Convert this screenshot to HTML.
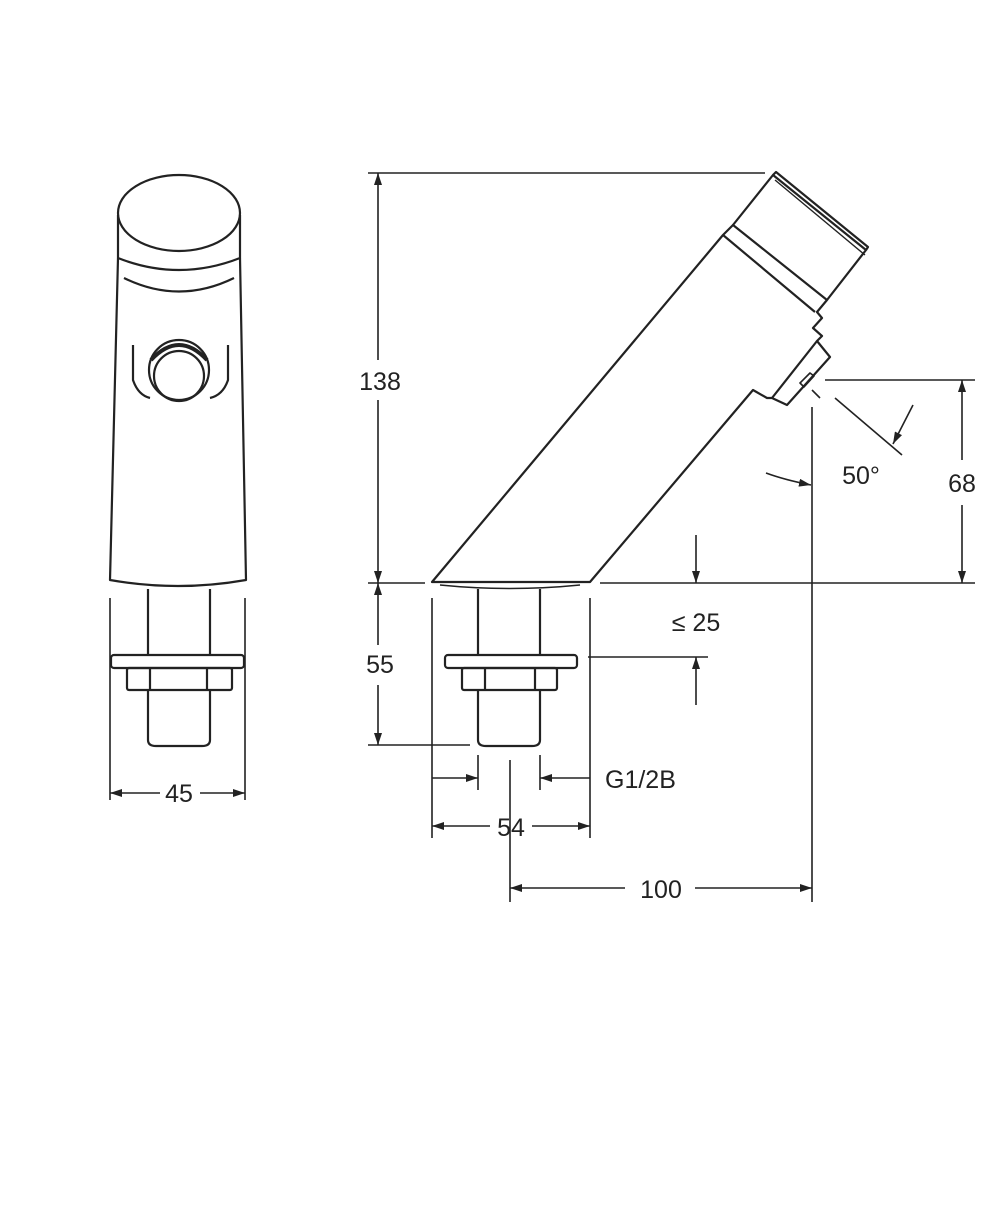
<!DOCTYPE html>
<html><head><meta charset="utf-8"><style>
html,body{margin:0;padding:0;background:#fff;}
svg{display:block;}
text{font-family:"Liberation Sans",sans-serif;font-size:25px;fill:#222;}
</style></head><body>
<svg width="1000" height="1208" viewBox="0 0 1000 1208" xmlns="http://www.w3.org/2000/svg">
<defs>
<marker id="a" viewBox="0 0 12 8" refX="12" refY="4" markerWidth="12" markerHeight="8" orient="auto-start-reverse" markerUnits="userSpaceOnUse"><path d="M0,0 L12,4 L0,8 z" fill="#222"/></marker>
</defs>
<g fill="none" stroke="#222" stroke-width="2.2" stroke-linejoin="round">
<!-- FRONT VIEW -->
<ellipse cx="179" cy="213" rx="61" ry="38"/>
<path d="M118,215 L118,258 Q179,282 240,258 L240,215"/>
<path d="M124,278 Q179,305 234,278"/>
<path d="M118,258 L110,580 Q178,592 246,580 L240,258"/>
<path d="M133,345 L133,380 Q138,395 150,398"/>
<path d="M228,345 L228,380 Q223,395 210,398"/>
<circle cx="179" cy="370" r="30"/>
<circle cx="179" cy="376" r="25"/>
<path d="M151,360 Q179,330 207,360" stroke-width="4"/>
<path d="M148,589 L148,655 M210,589 L210,655"/>
<rect x="111" y="655" width="133" height="13" rx="3"/>
<rect x="127" y="668" width="105" height="22" rx="2"/>
<path d="M150,668 L150,690 M207,668 L207,690"/>
<path d="M148,690 L148,740 Q148,746 156,746 L202,746 Q210,746 210,740 L210,690"/>
<path d="M110,598 L110,800 M245,598 L245,800" stroke-width="1.6"/>
<line x1="110" y1="793" x2="160" y2="793" stroke-width="1.6" marker-start="url(#a)"/>
<line x1="200" y1="793" x2="245" y2="793" stroke-width="1.6" marker-end="url(#a)"/>

<!-- SIDE VIEW BODY -->
<path d="M432,582 L723,235 L733,225 L827,300 L817,312 L822,318 L813,328 L822,336 L817,341 L830,357 L787,405 L772,398 L767,398 L753,390 L590,582 Z"/>
<path d="M733,225 L773,175 L866,250 L827,300"/>
<path d="M773,175 L776,172 L868,247 L866,250" />
<path d="M775,180 L865,255" stroke-width="1.4"/>
<path d="M723,235 L815,312" />
<path d="M772,398 L817,341"/>
<path d="M800,383 L810,373 L814,376 L804,387 Z" stroke-width="1.6"/>
<path d="M440,585 Q510,592 580,585" stroke-width="1.6"/>
<!-- stem/nut side -->
<path d="M478,589 L478,655 M540,589 L540,655"/>
<rect x="445" y="655" width="132" height="13" rx="3"/>
<rect x="462" y="668" width="95" height="22" rx="2"/>
<path d="M485,668 L485,690 M535,668 L535,690"/>
<path d="M478,690 L478,740 Q478,746 486,746 L532,746 Q540,746 540,740 L540,690"/>
</g>
<g fill="none" stroke="#222" stroke-width="1.6">
<!-- dimension lines side -->
<line x1="368" y1="173" x2="765" y2="173"/>
<line x1="378" y1="173" x2="378" y2="360" marker-start="url(#a)"/>
<line x1="378" y1="400" x2="378" y2="583" marker-end="url(#a)"/>
<line x1="368" y1="583" x2="425" y2="583"/>
<line x1="600" y1="583" x2="975" y2="583"/>
<line x1="378" y1="583" x2="378" y2="645" marker-start="url(#a)"/>
<line x1="378" y1="685" x2="378" y2="745" marker-end="url(#a)"/>
<line x1="368" y1="745" x2="470" y2="745"/>
<line x1="432" y1="598" x2="432" y2="838"/>
<line x1="590" y1="598" x2="590" y2="838"/>
<line x1="432" y1="826" x2="490" y2="826" marker-start="url(#a)"/>
<line x1="532" y1="826" x2="590" y2="826" marker-end="url(#a)"/>
<line x1="432" y1="778" x2="478" y2="778" marker-end="url(#a)"/>
<line x1="540" y1="778" x2="590" y2="778" marker-start="url(#a)"/>
<line x1="478" y1="755" x2="478" y2="790"/>
<line x1="540" y1="755" x2="540" y2="790"/>
<line x1="510" y1="760" x2="510" y2="902"/>
<line x1="510" y1="888" x2="625" y2="888" marker-start="url(#a)"/>
<line x1="695" y1="888" x2="812" y2="888" marker-end="url(#a)"/>
<line x1="812" y1="407" x2="812" y2="902"/>
<line x1="825" y1="380" x2="975" y2="380"/>
<line x1="962" y1="380" x2="962" y2="460" marker-start="url(#a)"/>
<line x1="962" y1="505" x2="962" y2="583" marker-end="url(#a)"/>
<line x1="696" y1="535" x2="696" y2="583" marker-end="url(#a)"/>
<line x1="588" y1="657" x2="708" y2="657"/>
<line x1="696" y1="705" x2="696" y2="657" marker-end="url(#a)"/>
<line x1="835" y1="398" x2="902" y2="455"/>
<line x1="913" y1="405" x2="893" y2="444" marker-end="url(#a)"/>
<path d="M766,473 Q785,480 811,485" marker-end="url(#a)"/>
<path d="M812,390 L820,398" />
</g>
<text x="179" y="802" text-anchor="middle">45</text>
<text x="380" y="390" text-anchor="middle">138</text>
<text x="380" y="673" text-anchor="middle">55</text>
<text x="511" y="836" text-anchor="middle">54</text>
<text x="605" y="788">G1/2B</text>
<text x="661" y="898" text-anchor="middle">100</text>
<text x="962" y="492" text-anchor="middle">68</text>
<text x="696" y="631" text-anchor="middle">≤ 25</text>
<text x="861" y="484" text-anchor="middle">50°</text>
</svg>
</body></html>
